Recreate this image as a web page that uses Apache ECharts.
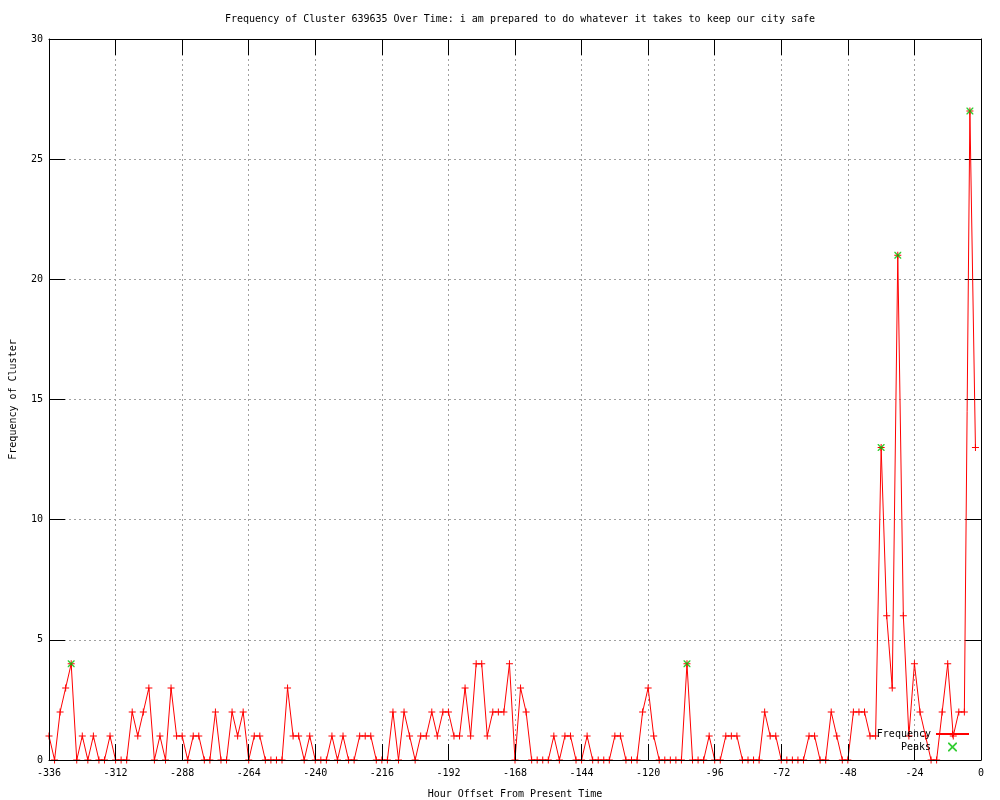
<!DOCTYPE html>
<html>
<head>
<meta charset="utf-8">
<script src="https://cdn.jsdelivr.net/npm/echarts@6/dist/echarts.min.js"></script>
<style>html,body{margin:0;padding:0;background:#fff;}#chart{width:1000px;height:800px;}</style>
</head>
<body>
<div id="chart"></div>
<script>
const hours = [
-336,-334,-332,-330,-328,-326,-324,-322,-320,-318,
-316,-314,-312,-310,-308,-306,-304,-302,-300,-298,
-296,-294,-292,-290,-288,-286,-284,-282,-280,-278,
-276,-274,-272,-270,-268,-266,-264,-262,-260,-258,
-256,-254,-252,-250,-248,-246,-244,-242,-240,-238,
-236,-234,-232,-230,-228,-226,-224,-222,-220,-218,
-216,-214,-212,-210,-208,-206,-204,-202,-200,-198,
-196,-194,-192,-190,-188,-186,-184,-182,-180,-178,
-176,-174,-172,-170,-168,-166,-164,-162,-160,-158,
-156,-154,-152,-150,-148,-146,-144,-142,-140,-138,
-136,-134,-132,-130,-128,-126,-124,-122,-120,-118,
-116,-114,-112,-110,-108,-106,-104,-102,-100,-98,
-96,-94,-92,-90,-88,-86,-84,-82,-80,-78,
-76,-74,-72,-70,-68,-66,-64,-62,-60,-58,
-56,-54,-52,-50,-48,-46,-44,-42,-40,-38,
-36,-34,-32,-30,-28,-26,-24,-22,-20,-18,
-16,-14,-12,-10,-8,-6,-4,-2
];
const frequency = [
1,0,2,3,4,0,1,0,1,0,
0,1,0,0,0,2,1,2,3,0,
1,0,3,1,1,0,1,1,0,0,
2,0,0,2,1,2,0,1,1,0,
0,0,0,3,1,1,0,1,0,0,
0,1,0,1,0,0,1,1,1,0,
0,0,2,0,2,1,0,1,1,2,
1,2,2,1,1,3,1,4,4,1,
2,2,2,4,0,3,2,0,0,0,
0,1,0,1,1,0,0,1,0,0,
0,0,1,1,0,0,0,2,3,1,
0,0,0,0,0,4,0,0,0,1,
0,0,1,1,1,0,0,0,0,2,
1,1,0,0,0,0,0,1,1,0,
0,2,1,0,0,2,2,2,1,1,
13,6,3,21,6,1,4,2,1,0,
0,2,4,1,2,2,27,13
];
const peakHours = [-328, -106, -36, -30, -4];
const peakValues = [4, 4, 13, 21, 27];
const xTicks = [-336,-312,-288,-264,-240,-216,-192,-168,-144,-120,-96,-72,-48,-24,0];
const yTicks = [0,5,10,15,20,25,30];

const titleText = 'Frequency of Cluster 639635 Over Time: i am prepared to do whatever it takes to keep our city safe';
const FONT = 'DejaVu Sans Mono';
const plusPath = 'path://M0,3H7V4H0Z M3,0H4V7H3Z';
const crossPath = 'path://M0,0L1,0L7,6L7,7L6,7L0,1Z M6,0L7,0L7,1L1,7L0,7L0,6Z';

const freqData = hours.map((h, i) => [h, frequency[i]]);
const peakData = peakHours.map((h, i) => [h, peakValues[i]]);

const xMin = xTicks[0], xMax = xTicks[xTicks.length - 1], xInt = xTicks[1] - xTicks[0];
const yMin = yTicks[0], yMax = yTicks[yTicks.length - 1], yInt = yTicks[1] - yTicks[0];
const txt = {color: '#000', fontFamily: FONT, fontSize: 10};
const gridLine = {show: true, lineStyle: {color: '#a0a0a0', width: 1, type: [2, 3]}};
const tickIn = {show: true, inside: true, length: 16, lineStyle: {color: '#000', width: 1}};
const blackLine = {show: true, onZero: false, lineStyle: {color: '#000', width: 1}};

const chart = echarts.init(document.getElementById('chart'), null, {renderer: 'canvas'});
chart.setOption({
  animation: false,
  backgroundColor: '#fff',
  title: {
    text: titleText, left: 515, top: 9, textAlign: 'center',
    textStyle: {color: '#000', fontFamily: FONT, fontSize: 10, fontWeight: 'normal'}
  },
  grid: {left: 49, right: 19, top: 39, bottom: 40, containLabel: false, outerBoundsMode: 'none'},
  legend: [
    {data: ['Frequency'], orient: 'vertical', right: 30, top: 729, padding: 0, align: 'right',
     itemWidth: 33, itemHeight: 9, selectedMode: false, textStyle: txt},
    {data: ['Peaks'], orient: 'vertical', right: 43, top: 742, padding: 0, align: 'right',
     itemWidth: 33, itemHeight: 9, selectedMode: false, textStyle: txt}
  ],
  xAxis: [
    {type: 'value', position: 'bottom', min: xMin, max: xMax, interval: xInt, z: 5,
     name: 'Hour Offset From Present Time', nameLocation: 'middle', nameGap: 29, nameTextStyle: txt,
     axisLine: blackLine, axisTick: tickIn, splitLine: {show: false},
     axisLabel: Object.assign({margin: 8}, txt)},
    {type: 'value', position: 'top', min: xMin, max: xMax, interval: xInt,
     axisLine: blackLine, axisTick: tickIn,
     splitLine: gridLine, axisLabel: {show: false}}
  ],
  yAxis: [
    {type: 'value', position: 'left', min: yMin, max: yMax, interval: yInt, z: 5,
     name: 'Frequency of Cluster', nameLocation: 'middle', nameGap: 31, nameTextStyle: txt,
     axisLine: blackLine, axisTick: tickIn, splitLine: {show: false},
     axisLabel: Object.assign({margin: 6}, txt)},
    {type: 'value', position: 'right', min: yMin, max: yMax, interval: yInt,
     axisLine: blackLine, axisTick: tickIn,
     splitLine: gridLine, axisLabel: {show: false}}
  ],
  series: [
    {name: 'Frequency', type: 'line', xAxisIndex: 0, yAxisIndex: 0, data: freqData,
     symbol: plusPath, symbolSize: 7, showAllSymbol: true, symbolKeepAspect: true,
     lineStyle: {color: '#ff0000', width: 1}, itemStyle: {color: '#ff0000'},
     emphasis: {disabled: true}, z: 2},
    {name: 'Peaks', type: 'scatter', xAxisIndex: 0, yAxisIndex: 0, data: peakData,
     symbol: crossPath, symbolSize: 7, symbolKeepAspect: true,
     itemStyle: {color: '#00c000'}, emphasis: {disabled: true}, z: 3}
  ]
});
</script>
</body>
</html>
